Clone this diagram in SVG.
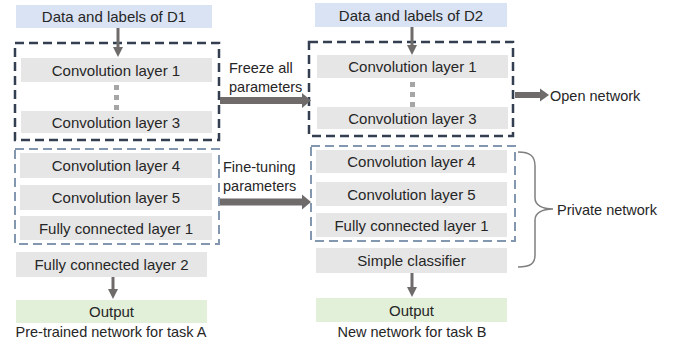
<svg xmlns="http://www.w3.org/2000/svg" width="679" height="344" viewBox="0 0 679 344">
  <style>
    text { font-family: "Liberation Sans", Arial, sans-serif; font-size: 14.5px; fill: #262626; }
    .c { text-anchor: middle; dominant-baseline: central; }
    .l { dominant-baseline: central; }
    .box text { font-size: 15px; }
    .layer { fill: #e7e6e6; }
    .input { fill: #dae3f3; }
    .out { fill: #e2f0d9; }
    .frozen { fill: none; stroke: #333f50; stroke-width: 2.5; stroke-dasharray: 9 5; }
    .tuned { fill: none; stroke: #8497b0; stroke-width: 2; stroke-dasharray: 9 5; }
    .dot { fill: #a6a6a6; }
    .shaft { stroke: #6f6b6b; fill: none; }
    .head { fill: #6f6b6b; }
  </style>

  <!-- Pre-trained network (task A) -->
  <g id="d1-input" class="box"><rect class="input" x="16" y="5" width="196" height="23"/><text class="c" x="114" y="16.5">Data and labels of D1</text></g>
  <g id="a-frozen-block"><rect class="frozen" x="15" y="43" width="204" height="97"/></g>
  <g id="a-conv1" class="box"><rect class="layer" x="21" y="58" width="191" height="24"/><text class="c" x="116" y="70">Convolution layer 1</text></g>
  <g id="a-dots"><rect class="dot" x="114" y="85" width="5" height="5"/><rect class="dot" x="114" y="95" width="5" height="5"/><rect class="dot" x="114" y="105" width="5" height="5"/></g>
  <g id="a-conv3" class="box"><rect class="layer" x="21" y="111" width="191" height="22"/><text class="c" x="116" y="122">Convolution layer 3</text></g>
  <g id="a-tuned-block"><rect class="tuned" x="15" y="149" width="204" height="95"/></g>
  <g id="a-conv4" class="box"><rect class="layer" x="20" y="153" width="192" height="25"/><text class="c" x="116" y="165.5">Convolution layer 4</text></g>
  <g id="a-conv5" class="box"><rect class="layer" x="20" y="185" width="192" height="25"/><text class="c" x="116" y="197.5">Convolution layer 5</text></g>
  <g id="a-fc1" class="box"><rect class="layer" x="20" y="216" width="192" height="24"/><text class="c" x="116" y="228">Fully connected layer 1</text></g>
  <g id="a-fc2" class="box"><rect class="layer" x="16" y="252" width="191" height="25"/><text class="c" x="111.5" y="264.5">Fully connected layer 2</text></g>
  <g id="a-output" class="box"><rect class="out" x="16" y="300" width="191" height="23"/><text class="c" x="111.5" y="311.5">Output</text></g>
  <g id="a-caption"><text class="c" x="111" y="332">Pre-trained network for task A</text></g>

  <!-- New network (task B) -->
  <g id="d2-input" class="box"><rect class="input" x="315" y="3" width="192" height="24"/><text class="c" x="411" y="15">Data and labels of D2</text></g>
  <g id="b-frozen-block"><rect class="frozen" x="309" y="42" width="204" height="94"/></g>
  <g id="b-conv1" class="box"><rect class="layer" x="317" y="55" width="191" height="23"/><text class="c" x="412.5" y="66.5">Convolution layer 1</text></g>
  <g id="b-dots"><rect class="dot" x="410" y="82" width="5" height="5"/><rect class="dot" x="410" y="92" width="5" height="5"/><rect class="dot" x="410" y="102" width="5" height="5"/></g>
  <g id="b-conv3" class="box"><rect class="layer" x="317" y="107" width="191" height="22"/><text class="c" x="412.5" y="118">Convolution layer 3</text></g>
  <g id="b-tuned-block"><rect class="tuned" x="311" y="146" width="204" height="95"/></g>
  <g id="b-conv4" class="box"><rect class="layer" x="316" y="150" width="191" height="23"/><text class="c" x="411.5" y="161.5">Convolution layer 4</text></g>
  <g id="b-conv5" class="box"><rect class="layer" x="316" y="182" width="191" height="24"/><text class="c" x="411.5" y="194">Convolution layer 5</text></g>
  <g id="b-fc1" class="box"><rect class="layer" x="316" y="213" width="191" height="24"/><text class="c" x="411.5" y="225">Fully connected layer 1</text></g>
  <g id="b-classifier" class="box"><rect class="layer" x="316" y="248" width="191" height="25"/><text class="c" x="411.5" y="260.5">Simple classifier</text></g>
  <g id="b-output" class="box"><rect class="out" x="316" y="298" width="191" height="24"/><text class="c" x="411.5" y="310">Output</text></g>
  <g id="b-caption"><text class="c" x="412" y="332">New network for task B</text></g>

  <!-- Annotations -->
  <g id="freeze-label"><text class="l" x="229" y="68">Freeze all</text><text class="l" x="229" y="87">parameters</text></g>
  <g id="finetune-label"><text class="l" x="223" y="167">Fine-tuning</text><text class="l" x="223" y="186">parameters</text></g>
  <g id="open-network"><text class="l" x="550" y="96">Open network</text></g>
  <g id="private-network">
    <path d="M518 152 C530 152 535 156 535 166 L535 198 C535 205 542 209 553 209 C542 209 535 213 535 220 L535 255 C535 264 530 267 518 267" fill="none" stroke="#7f7f7f" stroke-width="1.5"/>
    <text class="l" x="557" y="210">Private network</text>
  </g>

  <!-- Connectors -->
  <g id="connectors">
    <path class="shaft" d="M118 28 V48" stroke-width="3"/><polygon class="head" points="113,47 123,47 118,57"/>
    <path class="shaft" d="M113 277 V290" stroke-width="3"/><polygon class="head" points="108,289 118,289 113,299"/>
    <path class="shaft" d="M412 27 V46" stroke-width="3"/><polygon class="head" points="407,45 417,45 412,55"/>
    <path class="shaft" d="M412 273 V288" stroke-width="3"/><polygon class="head" points="407,287 417,287 412,297"/>
    <path class="shaft" d="M220 100.5 H303" stroke-width="7"/><polygon class="head" points="302,93 311,100.5 302,108"/>
    <path class="shaft" d="M220 202 H303" stroke-width="7"/><polygon class="head" points="302,194.5 311,202 302,209.5"/>
    <path class="shaft" d="M515 95 H541" stroke-width="6"/><polygon class="head" points="540,88.5 549,95 540,101.5"/>
  </g>
</svg>
